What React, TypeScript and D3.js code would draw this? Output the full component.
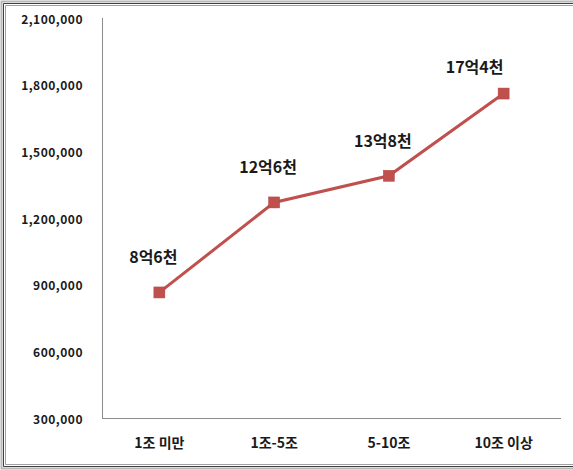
import React from "react";
import * as d3 from "d3";

const categories = ["1조 미만", "1조-5조", "5-10조", "10조 이상"];
const values = [865000, 1270000, 1390000, 1760000];
const valueLabels = ["8억6천", "12억6천", "13억8천", "17억4천"];
const yTicks = [300000, 600000, 900000, 1200000, 1500000, 1800000, 2100000];

const W = 573;
const H = 470;
const margin = { left: 102, right: 12, top: 18, bottom: 52 };

export default function App() {
  const x = d3
    .scaleBand<string>()
    .domain(categories)
    .range([margin.left, W - margin.right]);
  const y = d3
    .scaleLinear()
    .domain([300000, 2100000])
    .range([H - margin.bottom, margin.top]);
  const fmt = d3.format(",");
  const pts = values.map((v, i) => [x(categories[i])! + x.bandwidth() / 2, y(v)] as [number, number]);
  const line = d3.line()(pts);
  const font = "'Noto Sans CJK KR', 'Noto Sans', sans-serif";
  const y0 = y(300000);

  return (
    <svg
      width={W}
      height={H}
      style={{ position: "absolute", left: 0, top: 0, background: "#fff" }}
      fontFamily={font}
    >
      {/* frame */}
      <path d={`M${W} 1.5 H1.5 V${H - 1.5} H${W}`} fill="none" stroke="#b8b8b8" strokeWidth={2} />
      <path d={`M${W} 3.5 H3.5 V${H - 3.5} H${W}`} fill="none" stroke="#404040" strokeWidth={1} />
      <path d={`M${W} 5.5 H5.5 V${H - 5.5} H${W}`} fill="none" stroke="#a0a0a0" strokeWidth={1} />

      {/* axes */}
      <line x1={margin.left + 0.5} x2={margin.left + 0.5} y1={margin.top} y2={y0} stroke="#8c8c8c" strokeWidth={1} />
      <line x1={margin.left} x2={W - margin.right} y1={y0 + 0.5} y2={y0 + 0.5} stroke="#8c8c8c" strokeWidth={1} />

      {yTicks.map((t) => (
        <text
          key={t}
          x={83}
          y={y(t)}
          textAnchor="end"
          dominantBaseline="central"
          fontSize={12}
          fontWeight="bold"
          letterSpacing={0.5}
          fill="#1a1a1a"
        >
          {fmt(t)}
        </text>
      ))}

      {categories.map((c) => (
        <text
          key={c}
          x={x(c)! + x.bandwidth() / 2}
          y={442}
          textAnchor="middle"
          dominantBaseline="central"
          fontSize={14}
          fontWeight="bold"
          fill="#1a1a1a"
        >
          {c}
        </text>
      ))}

      <path d={line!} fill="none" stroke="#c0504d" strokeWidth={3} />
      {pts.map(([px, py], i) => (
        <rect key={i} x={px - 5.5} y={py - 5.5} width={11} height={11} fill="#c0504d" stroke="#b3423f" strokeWidth={0.5} />
      ))}

      {pts.map(([px, py], i) => (
        <text
          key={"l" + i}
          x={px - (i === 3 ? 29 : 6)}
          y={py - (i === 3 ? 28 : 36)}
          textAnchor="middle"
          dominantBaseline="central"
          fontSize={16}
          fontWeight="bold"
          fill="#1a1a1a"
        >
          {valueLabels[i]}
        </text>
      ))}
    </svg>
  );
}
